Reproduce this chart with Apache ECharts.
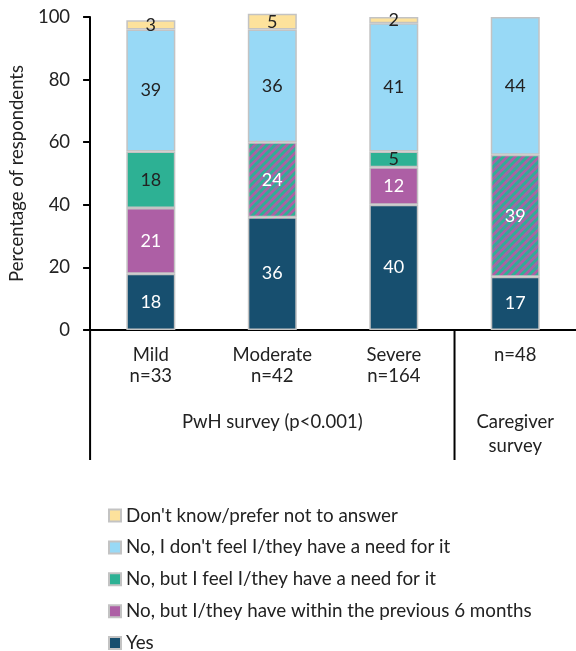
<!DOCTYPE html>
<html>
<head>
<meta charset="utf-8">
<script src="https://cdn.jsdelivr.net/npm/echarts@6/dist/echarts.min.js"></script>
<style>
html,body{margin:0;padding:0;background:#fff;}
#chart{width:576px;height:651px;}
</style>
</head>
<body>
<div id="chart"></div>
<script>
// ---- data ----
const categories = ['Mild\nn=33', 'Moderate\nn=42', 'Severe\nn=164', 'n=48'];
const yesVals      = [18, 36, 40, 17];
const within6Vals  = [21, null, 12, null];
const needVals     = [18, null, 5, null];
const combinedVals = [null, 24, null, 39];
const noNeedVals   = [39, 36, 41, 44];
const dontKnowVals = [3, 5, 2, null];
const seriesNames = [
  'Yes',
  'No, but I/they have within the previous 6 months',
  'No, but I feel I/they have a need for it',
  'No, I don\'t feel I/they have a need for it',
  'Don\'t know/prefer not to answer'
];
const groupLabels = ['PwH survey (p<0.001)', 'Caregiver\nsurvey'];
const groupSpans = [[0, 2], [3, 3]];
const yTickValues = [0, 20, 40, 60, 80, 100];

// ---- styles ----
const FONT = 'Lato';
const TXT = '#222';
const colors = {
  yes: '#174f6f',
  within: '#ad5fa5',
  need: '#2db194',
  noNeed: '#98d9f6',
  dk: '#fde29c'
};
const BORDER = '#c3c3c3';

function hatch() {
  const c = document.createElement('canvas');
  c.width = 8; c.height = 8;
  const g = c.getContext('2d');
  g.fillStyle = colors.need;
  g.fillRect(0, 0, 8, 8);
  g.strokeStyle = colors.within;
  g.lineWidth = 2.8;
  g.beginPath();
  g.moveTo(-2, 10); g.lineTo(10, -2);
  g.moveTo(-2, 2); g.lineTo(2, -2);
  g.moveTo(6, 10); g.lineTo(10, 6);
  g.stroke();
  return c;
}

const chart = echarts.init(document.getElementById('chart'), null, {renderer: 'canvas'});

function mk(name, data, color, labelColor) {
  return {
    name: name,
    type: 'bar',
    stack: 'total',
    data: data,
    barWidth: 49,
    clip: false,
    itemStyle: {color: color, borderColor: BORDER, borderWidth: 1.5},
    label: {
      show: true, position: 'inside', color: labelColor,
      fontFamily: FONT, fontSize: 18,
      formatter: p => (p.value == null ? '' : p.value)
    },
    emphasis: {disabled: true}
  };
}

const option = {
  animation: false,
  textStyle: {fontFamily: FONT},
  grid: {left: 88, top: 17, width: 493, height: 313, containLabel: false},
  legend: {
    orient: 'vertical',
    left: 103,
    top: 501,
    height: 200,
    itemWidth: 12,
    itemHeight: 12,
    itemGap: 12.9,
    icon: 'rect',
    textStyle: {fontFamily: FONT, fontSize: 18.8, color: TXT, lineHeight: 18},
    data: seriesNames.slice().reverse(),
    selectedMode: false
  },
  xAxis: {
    type: 'category',
    data: categories,
    axisLine: {show: true, lineStyle: {color: '#000', width: 2}},
    axisTick: {show: false},
    axisLabel: {fontFamily: FONT, fontSize: 18.5, color: TXT, lineHeight: 21, margin: 15}
  },
  yAxis: {
    type: 'value',
    min: 0, max: 100, interval: 20,
    name: 'Percentage of respondents',
    nameLocation: 'middle',
    nameGap: 61,
    nameTextStyle: {fontFamily: FONT, fontSize: 18.5, color: TXT},
    axisLine: {show: true, lineStyle: {color: '#000', width: 2}},
    axisTick: {show: true, length: 7, lineStyle: {color: '#000', width: 2}},
    axisLabel: {fontFamily: FONT, fontSize: 18.5, color: TXT, margin: 20,
      formatter: v => (yTickValues.indexOf(v) >= 0 ? String(v) : '')},
    splitLine: {show: false}
  },
  series: [
    mk(seriesNames[0], yesVals, colors.yes, '#fff'),
    mk(seriesNames[1], within6Vals, colors.within, '#fff'),
    mk(seriesNames[2], needVals, colors.need, TXT),
    mk('combined', combinedVals, {image: hatch(), repeat: 'repeat'}, '#fff'),
    mk(seriesNames[3], noNeedVals, colors.noNeed, TXT),
    mk(seriesNames[4], dontKnowVals, colors.dk, TXT)
  ]
};
chart.setOption(option);

// ---- group separators and group labels, positioned from the axes ----
function px(i) { return chart.convertToPixel({xAxisIndex: 0}, i); }
const y0 = chart.convertToPixel({yAxisIndex: 0}, 0);
const step = px(1) - px(0);
const bottomY = 460;
const graphics = [];
const boundaries = [px(0) - step / 2, px(2) + step / 2];
boundaries.forEach(x => {
  graphics.push({type: 'line', silent: true,
    shape: {x1: x, y1: y0, x2: x, y2: bottomY},
    style: {stroke: '#000', lineWidth: 2}});
});
groupLabels.forEach((t, gi) => {
  const [a, b] = groupSpans[gi];
  const cx = (px(a) + px(b)) / 2;
  graphics.push({type: 'text', silent: true, x: cx, y: 410,
    style: {text: t, fontFamily: FONT, fontSize: 18.5, fill: TXT,
      align: 'center', verticalAlign: 'top', lineHeight: 24}});
});
chart.setOption({graphic: graphics});
</script>
</body>
</html>
